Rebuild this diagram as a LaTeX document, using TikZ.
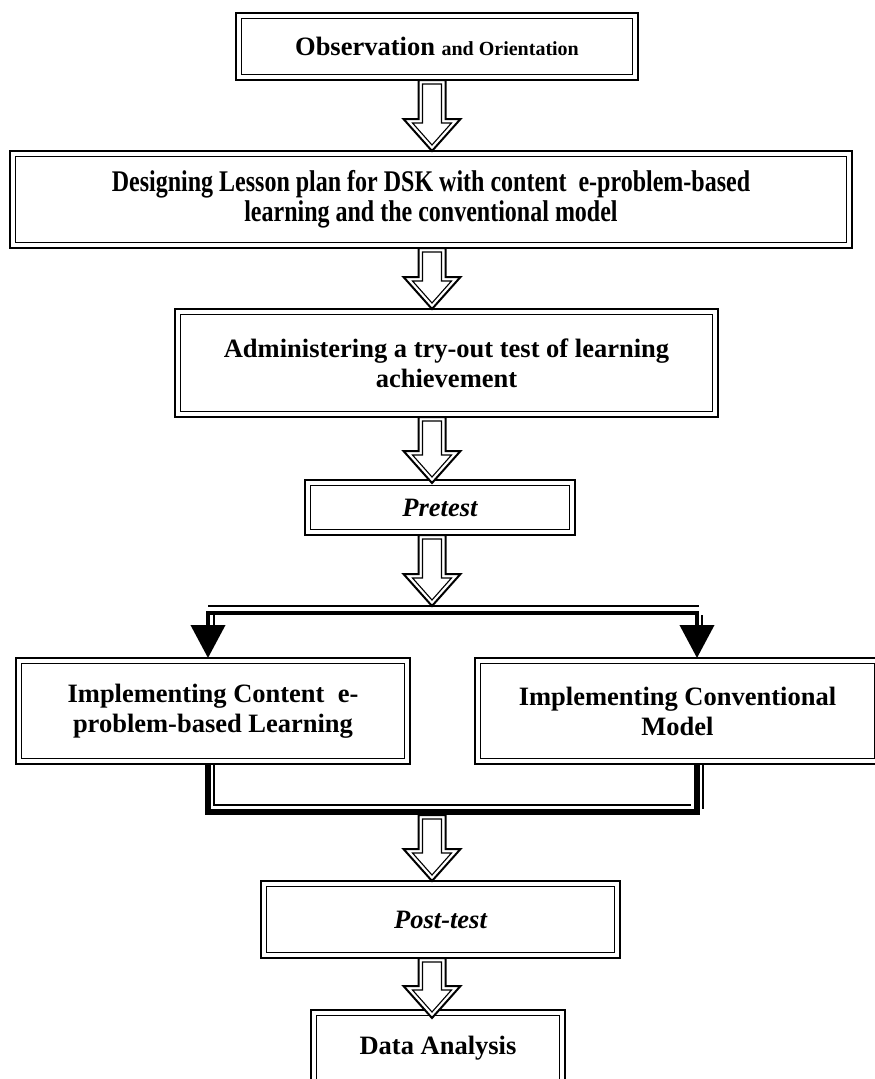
\documentclass[tikz,border=0pt]{standalone}
\usepackage{fontspec}
\setmainfont{Liberation Serif}
\newfontfamily\condfont{Liberation Serif}[FakeStretch=0.8]
\usetikzlibrary{calc,arrows.meta}
\tikzset{
  box/.style={draw, line width=2.2pt, rectangle, inner sep=0pt, outer sep=0pt,
    align=center, fill=white, font=\bfseries\fontsize{26.5}{30}\selectfont},
  innerline/.style={line width=1.3pt},
  harrow/.style={line width=2pt, line join=miter, fill=white},
  harrowin/.style={line width=1.1pt, line join=miter},
  thickline/.style={line width=4pt},
  heavyline/.style={line width=6pt},
  thinline/.style={line width=1.2pt},
}
\newcommand\inbox[1]{\draw[innerline] ([shift={(5.5pt,-5.5pt)}]#1.north west) rectangle ([shift={(-5.5pt,5.5pt)}]#1.south east);}
\newcommand\hollow[2]{%
  \draw[harrow] let \p1=(#1), \p2=(#2) in
    (\x1-13.5pt,\y1) -- (\x1-13.5pt,\y2+32pt) -- (\x1-28.5pt,\y2+32pt) -- (\x1,\y2)
    -- (\x1+28.5pt,\y2+32pt) -- (\x1+13.5pt,\y2+32pt) -- (\x1+13.5pt,\y1) -- cycle;
  \draw[harrowin] let \p1=(#1), \p2=(#2) in
    (\x1-9.5pt,\y1-4pt) -- (\x1-9.5pt,\y2+28pt) -- (\x1-19.5pt,\y2+28pt) -- (\x1,\y2+6pt)
    -- (\x1+19.5pt,\y2+28pt) -- (\x1+9.5pt,\y2+28pt) -- (\x1+9.5pt,\y1-4pt) -- cycle;
}
\begin{document}
\begin{tikzpicture}[x=1pt,y=-1pt]
\useasboundingbox (0,0) rectangle (875,1079);
\clip (0,0) rectangle (875,1079);
\coordinate (cx) at (432,0);
\coordinate (lx) at (208,0);
\coordinate (rx) at (697,0);

\node[box, minimum width=402pt, minimum height=67pt] (b1) at (437,46.5)
  {Observation {\fontsize{20}{22}\selectfont and Orientation}};
\node[box, minimum width=842pt, minimum height=97pt] (b2) at (431,199.5)
  {\condfont\bfseries\fontsize{30}{33}\selectfont Designing Lesson plan for DSK with content~ e-problem-based\\
   \condfont\bfseries\fontsize{30}{33}\selectfont learning and the conventional model};
\node[box, minimum width=543pt, minimum height=108pt] (b3) at (446.5,363)
  {Administering a try-out test of learning\\achievement};
\node[box, minimum width=270pt, minimum height=55pt] (b4) at (440,507.5)
  {\itshape Pretest};
\node[box, minimum width=394pt, minimum height=106pt] (b5l) at (213,711)
  {Implementing Content~ e-\\problem-based Learning};
\node[box, minimum width=405pt, minimum height=106pt] (b5r) at (677.5,711)
  {Implementing Conventional\\Model};
\node[box, minimum width=359pt, minimum height=77pt] (b6) at (440.5,919.5)
  {\itshape Post-test};
\node[box, minimum width=254pt, text height=44pt, text depth=56pt] (b7) at (438,1060)
  {Data Analysis};
\foreach \b in {b1,b2,b3,b4,b5l,b5r,b6,b7} {\inbox{\b}}

% hollow arrows
\hollow{b1.south -| cx}{b2.north -| cx}
\hollow{b2.south -| cx}{b3.north -| cx}
\coordinate (t3) at ($(b4.north -| cx)+(0,3)$);
\hollow{b3.south -| cx}{t3}
\coordinate (split) at (432,606);
\hollow{b4.south -| cx}{split}

% branch
\coordinate (sp2) at (432,613);
\draw[thinline] (lx |- split) -- (699,606);
\draw[thickline, -{Triangle[width=34pt,length=33pt]}] (sp2) -| (b5l.north -| lx);
\draw[thickline, -{Triangle[width=34pt,length=33pt]}] (sp2) -| (b5r.north -| rx);
\draw[thinline] (214,615) -- (214,627);
\draw[thinline] (702,615) -- (702,627);

% merge
\coordinate (merge) at (432,812);
\draw[heavyline] (b5l.south -| lx) |- (merge) -| (b5r.south -| rx);
\draw[thinline] (b5l.south -| 214,0) |- (691,805);
\draw[thinline] (b5r.south -| 703,0) -- (703,809);
\coordinate (m2) at (432,815);
\hollow{m2}{b6.north -| cx}
\coordinate (t6) at ($(b7.north -| cx)+(0,8)$);
\hollow{b6.south -| cx}{t6}
\end{tikzpicture}
\end{document}
